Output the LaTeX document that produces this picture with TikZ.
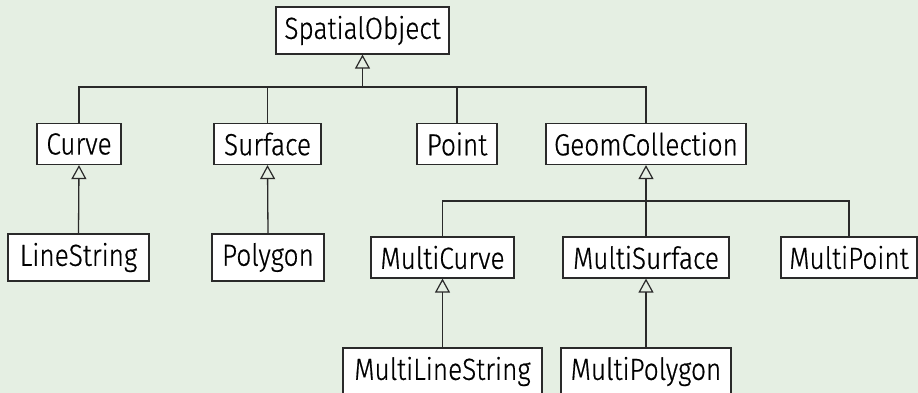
\documentclass[tikz,border=0pt]{standalone}
\usepackage{fontspec}
\setmainfont{Fira Sans Light}[FakeStretch=0.86, FakeBold=0.6]
\usetikzlibrary{arrows.meta}
\definecolor{bgcol}{HTML}{E5EFE3}
\definecolor{edgecol}{HTML}{2A2A2A}
\tikzset{
  cls/.style={draw=edgecol, fill=white, line width=1.2pt, inner sep=0pt,
    minimum height=41pt, font=\fontsize{30.5}{34}\selectfont},
  clsd/.style={cls, minimum height=47pt},
  link/.style={draw=edgecol, line width=1.3pt},
  inh/.style={link, -{Triangle[open, length=14pt, width=15pt, line width=1.2pt]}}
}
\begin{document}
\begin{tikzpicture}[x=1pt, y=-1pt]
  \useasboundingbox (0,0) rectangle (918,393);
  \fill[bgcol] (0,0) rectangle (918,393);

  % class boxes
  \node[clsd, minimum width=173pt] (so) at (362.5,30.5) {SpatialObject};
  \node[cls, minimum width=84pt] (curve) at (79,144) {Curve};
  \node[cls, minimum width=107pt] (surface) at (267.5,144) {Surface};
  \node[cls, minimum width=80pt] (point) at (457,144) {Point};
  \node[cls, minimum width=200pt] (gc) at (646,144) {GeomCollection};
  \node[clsd, minimum width=141pt] (ls) at (78.5,257.5) {LineString};
  \node[clsd, minimum width=112pt] (poly) at (268,257.5) {Polygon};
  \node[cls, minimum width=143pt] (mcurve) at (442.5,257.5) {MultiCurve};
  \node[cls, minimum width=166pt] (msurf) at (646,257.5) {MultiSurface};
  \node[cls, minimum width=136pt] (mpoint) at (849,257.5) {MultiPoint};
  \node[clsd, minimum width=199pt] (mls) at (442.5,371.5) {MultiLineString};
  \node[clsd, minimum width=170pt] (mpoly) at (646,371.5) {MultiPolygon};

  % junctions of the shared generalization lines
  \coordinate (b0) at (362.5,87);
  \coordinate (b1) at (646,201);

  % top level generalization
  \draw[inh] (b0) -- (so.south);
  \draw[link] (curve.north) |- (b0) -| (gc.north);
  \draw[link] (surface.north) -- (surface.north |- b0);
  \draw[link] (point.north) -- (point.north |- b0);

  % geometry collections
  \draw[inh] (msurf.north) -- (gc.south);
  \draw[link] (mcurve.north) |- (b1) -| (mpoint.north);

  % single-parent generalizations
  \draw[inh] (ls.north) -- (curve.south);
  \draw[inh] (poly.north) -- (surface.south);
  \draw[inh] (mls.north) -- (mcurve.south);
  \draw[inh] (mpoly.north) -- (msurf.south);
\end{tikzpicture}
\end{document}
